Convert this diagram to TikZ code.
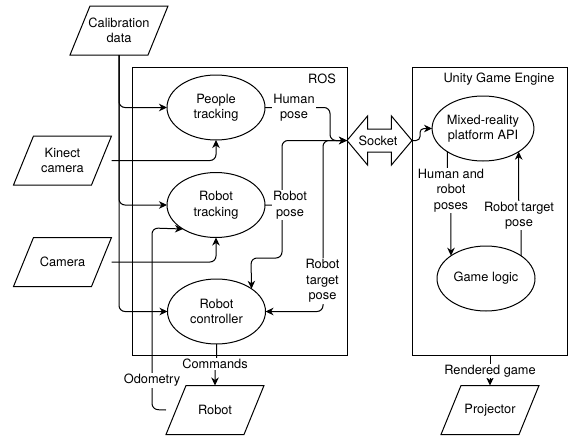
\documentclass[tikz,border=0pt]{standalone}
\usepackage{fontspec}
\setmainfont{TeX Gyre Heros}
\usetikzlibrary{arrows.meta,shapes.geometric,shapes.arrows}
\makeatletter
\pgfdeclareshape{datapara}{%
  \inheritsavedanchors[from=rectangle]%
  \inheritanchorborder[from=rectangle]%
  \inheritanchor[from=rectangle]{center}%
  \inheritanchor[from=rectangle]{north}%
  \inheritanchor[from=rectangle]{south}%
  \inheritanchor[from=rectangle]{east}%
  \inheritanchor[from=rectangle]{west}%
  \backgroundpath{%
    \southwest\pgf@xa=\pgf@x\pgf@ya=\pgf@y
    \northeast\pgf@xb=\pgf@x\pgf@yb=\pgf@y
    \pgfpathmoveto{\pgfpoint{\pgf@xa-10pt}{\pgf@ya}}%
    \pgfpathlineto{\pgfpoint{\pgf@xa+10pt}{\pgf@yb}}%
    \pgfpathlineto{\pgfpoint{\pgf@xb+10pt}{\pgf@yb}}%
    \pgfpathlineto{\pgfpoint{\pgf@xb-10pt}{\pgf@ya}}%
    \pgfpathclose}}
\makeatother
\tikzset{
  every node/.style={font=\fontsize{12.8}{15.5}\selectfont,align=center,inner sep=0pt,outer sep=0pt},
  iobox/.style={shape=datapara,draw,minimum width=78pt,minimum height=49pt},
  proc/.style={ellipse,draw,minimum width=98pt,minimum height=65pt},
  frame/.style={draw,minimum width=#1,minimum height=288.5pt},
  lab/.style={fill=white,inner sep=1pt},
  conn/.style={-{Stealth[length=8pt,width=7.5pt,inset=2.5pt]},rounded corners=6pt},
}
\begin{document}
\begin{tikzpicture}[x=1pt,y=-1pt,line width=1pt]
\useasboundingbox (0,0) rectangle (570,439);
\node[frame=215pt] (ros) at (239.5,211.25) {};
\node[frame=155pt] (unity) at (489.5,211.25) {};
\node (roslabel) at (322,79) {ROS};
\node (unitylabel) at (499,79) {Unity Game Engine};

\node[iobox] (calib) at (119,30.5) {Calibration\\data};
\node[iobox] (kinect) at (62.5,160.5) {Kinect\\camera};
\node[iobox] (camera) at (62.5,262) {Camera};
\node[iobox] (robot) at (215,410) {Robot};
\node[iobox] (projector) at (490,410) {Projector};

\node[proc] (people) at (216,107.5) {People\\tracking};
\node[proc] (rtrack) at (216,205) {Robot\\tracking};
\node[proc] (rctrl) at (216.5,311.5) {Robot\\controller};
\node[proc] (api) at (483,128.5) {Mixed-reality\\platform API};
\node[proc] (game) at (486,278.5) {Game logic};

\node[double arrow,draw,text width=0pt,inner ysep=11pt,minimum width=48pt,minimum height=65pt,
  double arrow head extend=13pt,double arrow tip angle=100] (socket) at (379.5,140.5) {};
\node (socketlabel) at (378,140.5) {Socket};

% inputs
\draw[conn] (calib.south) -- (119,107.5) -- (people.west);
\draw[conn] (calib.south) -- (119,205) -- (rtrack.west);
\draw[conn] (calib.south) -- (119,311.5) -- (rctrl.west);
\coordinate (kinectout) at ([xshift=10pt]kinect.east);
\coordinate (cameraout) at ([xshift=10pt]camera.east);
\draw[conn] (kinectout) -| (people.south);
\draw[conn] (cameraout) -| (rtrack.south);
\coordinate (odoout) at ([xshift=-10pt]robot.west);
\coordinate (odoa) at (152,409.5);
\coordinate (odob) at (152,228);
\draw[conn] (odoout) -- (odoa) -- (odob) -- (rtrack.216);

% ROS internals
\coordinate (hp) at (330,107.5);
\draw[conn] (people.east) -- (hp) |- (socket.west);
\coordinate (rpa) at (282,205);
\coordinate (rpb) at (282,258);
\coordinate (rpc) at (251,258);
\draw[conn] (rtrack.east) -- (rpa) |- (socket.west);
\draw[conn] (rpa) -- (rpb) -- (rpc) -- (rctrl.33);
\coordinate (rta) at (323,140.5);
\coordinate (rtb) at (323,311.5);
\draw[conn] (socket.west) -- (rta) -- (rtb) -- (rctrl.east);
\coordinate (cmd) at (robot.north);
\draw[conn] (rctrl.south) -- ++(0,21) -| (cmd);

% Unity internals
\coordinate (sa) at (420,140.5);
\coordinate (sb) at (420,128.5);
\draw[-{Stealth[length=8pt,width=7.5pt,inset=2.5pt]},rounded corners=4pt] (socket.east) -- (sa) -- (sb) -- (api.west);
\coordinate (apidown) at (api.213);
\coordinate (gamein) at (game.147);
\draw[conn] (apidown) -- ++(0,22) -| (gamein);
\draw[conn] (game.33) -- ++(0,-50) -| (api.-33);
\coordinate (rendered) at (490,355.5);
\draw[conn] (rendered) -- (projector.north);

% labels
\node[lab] (lhp) at (294,107.5) {Human\\pose};
\node[lab] (lrp) at (290,205) {Robot\\pose};
\node[lab] (lrt) at (322.5,281) {Robot\\target\\pose};
\node[lab] (lcmd) at (215,364) {Commands};
\node[lab] (lodo) at (152,380.5) {Odometry};
\node[lab] (lhr) at (451,190.5) {Human and\\robot\\poses};
\node[lab] (lrtp) at (519,215.5) {Robot target\\pose};
\node[lab] (lrg) at (490,371) {Rendered game};
\end{tikzpicture}
\end{document}
